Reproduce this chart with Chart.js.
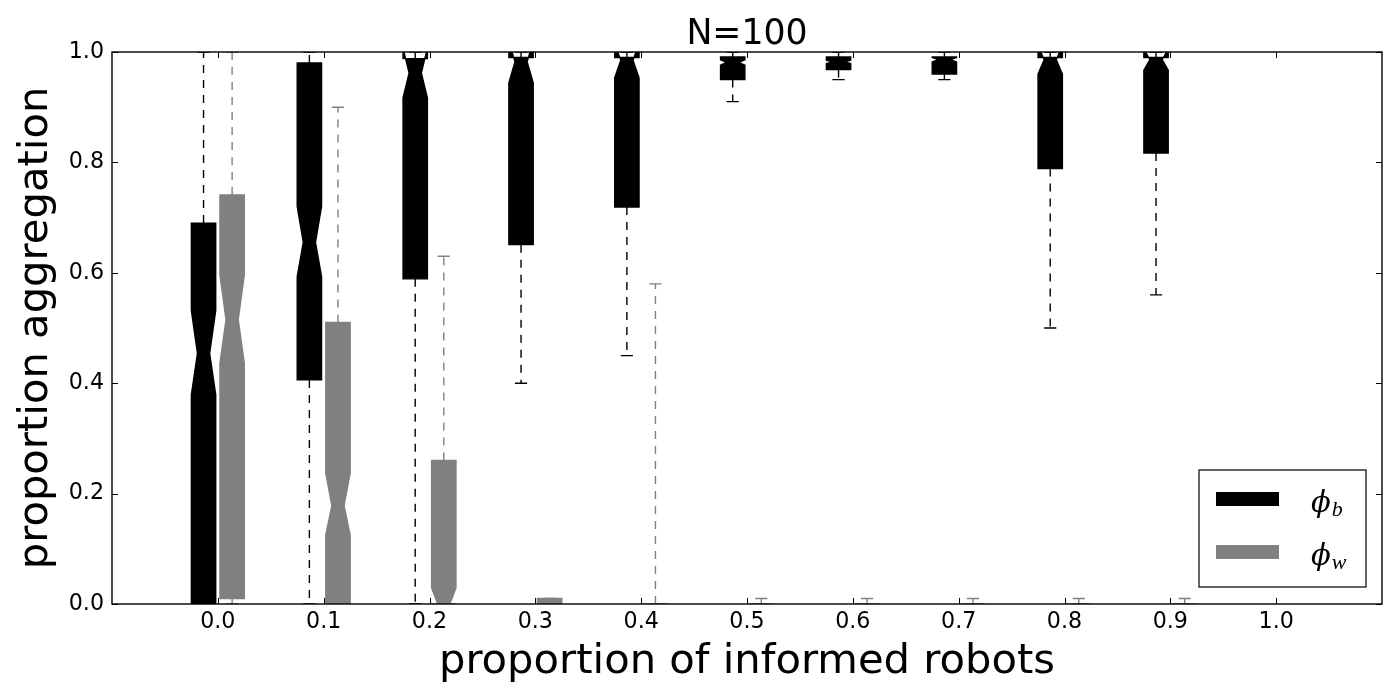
<!DOCTYPE html>
<html>
<head>
<meta charset="utf-8">
<script src="https://cdn.jsdelivr.net/npm/chart.js@4.4.1/dist/chart.umd.min.js"></script>
<style>
html,body{margin:0;padding:0;background:#ffffff;}
#wrap{width:1400px;height:700px;}
</style>
</head>
<body>
<div id="wrap"><canvas id="c" width="1400" height="700"></canvas></div>
<script>
// ---------- data ----------
const categories = [0.0, 0.1, 0.2, 0.3, 0.4, 0.5, 0.6, 0.7, 0.8, 0.9];
const xTickValues = [0.0, 0.1, 0.2, 0.3, 0.4, 0.5, 0.6, 0.7, 0.8, 0.9, 1.0];
const yTickValues = [0.0, 0.2, 0.4, 0.6, 0.8, 1.0];
const seriesLabels = ['b', 'w'];   // subscripts of phi

// phi_b (black)
const bLow     = [0.00, 0.00, 0.00, 0.40, 0.45, 0.91, 0.95, 0.95, 0.50, 0.56];
const bQ1      = [0.00, 0.406, 0.589, 0.651, 0.719, 0.950, 0.968, 0.960, 0.789, 0.817];
const bNotchLo = [0.379, 0.593, 0.917, 0.944, 0.953, 0.976, 0.979, 0.982, 0.960, 0.967];
const bMed     = [0.454, 0.655, 0.962, 0.982, 0.985, 0.981, 0.982, 0.986, 0.986, 0.986];
const bNotchHi = [0.532, 0.720, 1.007, 1.020, 1.015, 0.986, 0.985, 0.990, 1.012, 1.005];
const bQ3      = [0.690, 0.980, 0.988, 0.990, 0.990, 0.991, 0.991, 0.991, 0.990, 0.990];
const bHigh    = [1.00, 1.00, 1.00, 1.00, 1.00, 1.00, 1.00, 1.00, 1.00, 1.00];

// phi_w (grey)
const wLow     = [0.00, 0.00, 0.00, 0.00, 0.00, 0.00, 0.00, 0.00, 0.00, 0.00];
const wQ1      = [0.01, 0.00, 0.00, 0.00, 0.00, 0.00, 0.00, 0.00, 0.00, 0.00];
const wNotchLo = [0.436, 0.125, -0.029, -0.001, 0.00, 0.00, 0.00, 0.00, 0.00, 0.00];
const wMed     = [0.515, 0.178, 0.000, 0.000, 0.00, 0.00, 0.00, 0.00, 0.00, 0.00];
const wNotchHi = [0.596, 0.237, 0.029, 0.001, 0.00, 0.00, 0.00, 0.00, 0.00, 0.00];
const wQ3      = [0.741, 0.510, 0.260, 0.010, 0.00, 0.00, 0.00, 0.00, 0.00, 0.00];
const wHigh    = [1.00, 0.90, 0.63, 0.01, 0.58, 0.01, 0.01, 0.01, 0.01, 0.01];

// ---------- styling ----------
const BOX_W = 0.023, CAP_W = 0.0115;
const series = [
  {sub: seriesLabels[0], color: '#000000', offset: -0.0135,
   low: bLow, q1: bQ1, nlo: bNotchLo, med: bMed, nhi: bNotchHi, q3: bQ3, high: bHigh},
  {sub: seriesLabels[1], color: '#808080', offset: 0.0135,
   low: wLow, q1: wQ1, nlo: wNotchLo, med: wMed, nhi: wNotchHi, q3: wQ3, high: wHigh}
];

const boxPlugin = {
  id: 'notchedBoxes',
  afterDatasetsDraw(chart) {
    const {ctx, chartArea: a, scales: {x, y}} = chart;
    ctx.save();
    ctx.beginPath();
    ctx.rect(a.left, a.top, a.right - a.left, a.bottom - a.top);
    ctx.clip();
    series.forEach(s => {
      // boxes
      categories.forEach((c, i) => {
        const p = c + s.offset;
        const L = x.getPixelForValue(p - BOX_W / 2), R = x.getPixelForValue(p + BOX_W / 2);
        const nL = x.getPixelForValue(p - BOX_W / 4), nR = x.getPixelForValue(p + BOX_W / 4);
        const Y = v => y.getPixelForValue(v);
        ctx.beginPath();
        ctx.moveTo(L, Y(s.q1[i]));
        ctx.lineTo(R, Y(s.q1[i]));
        ctx.lineTo(R, Y(s.nlo[i]));
        ctx.lineTo(nR, Y(s.med[i]));
        ctx.lineTo(R, Y(s.nhi[i]));
        ctx.lineTo(R, Y(s.q3[i]));
        ctx.lineTo(L, Y(s.q3[i]));
        ctx.lineTo(L, Y(s.nhi[i]));
        ctx.lineTo(nL, Y(s.med[i]));
        ctx.lineTo(L, Y(s.nlo[i]));
        ctx.closePath();
        ctx.fillStyle = s.color;
        ctx.fill();
        ctx.lineWidth = 1.4;
        ctx.lineJoin = 'miter';
        ctx.strokeStyle = s.color;
        ctx.stroke();
      });
      // whiskers, caps, medians
      categories.forEach((c, i) => {
        const p = c + s.offset;
        const xc = x.getPixelForValue(p);
        const cL = x.getPixelForValue(p - CAP_W / 2), cR = x.getPixelForValue(p + CAP_W / 2);
        const nL = x.getPixelForValue(p - BOX_W / 4), nR = x.getPixelForValue(p + BOX_W / 4);
        const Y = v => y.getPixelForValue(v);
        ctx.strokeStyle = s.color;
        ctx.lineWidth = 1.4;
        ctx.lineCap = 'butt';
        ctx.setLineDash([8, 7]);
        ctx.beginPath();
        ctx.moveTo(xc, Y(s.q1[i])); ctx.lineTo(xc, Y(s.low[i]));
        ctx.stroke();
        ctx.beginPath();
        ctx.moveTo(xc, Y(s.q3[i])); ctx.lineTo(xc, Y(s.high[i]));
        ctx.stroke();
        ctx.setLineDash([]);
        ctx.beginPath();
        ctx.moveTo(cL, Y(s.low[i])); ctx.lineTo(cR, Y(s.low[i]));
        ctx.moveTo(cL, Y(s.high[i])); ctx.lineTo(cR, Y(s.high[i]));
        ctx.stroke();
        ctx.beginPath();
        ctx.moveTo(nL, Y(s.med[i])); ctx.lineTo(nR, Y(s.med[i]));
        ctx.stroke();
      });
    });
    ctx.restore();

    // spines and inward ticks
    ctx.save();
    ctx.strokeStyle = '#000';
    ctx.lineWidth = 1.4;
    ctx.strokeRect(a.left, a.top, a.right - a.left, a.bottom - a.top);
    ctx.lineWidth = 1;
    ctx.beginPath();
    xTickValues.forEach(v => {
      const px = Math.round(x.getPixelForValue(v)) + 0.5;
      ctx.moveTo(px, a.bottom); ctx.lineTo(px, a.bottom - 6);
      ctx.moveTo(px, a.top); ctx.lineTo(px, a.top + 6);
    });
    yTickValues.forEach(v => {
      const py = Math.round(y.getPixelForValue(v)) + 0.5;
      ctx.moveTo(a.left, py); ctx.lineTo(a.left + 6, py);
      ctx.moveTo(a.right, py); ctx.lineTo(a.right - 6, py);
    });
    ctx.stroke();
    ctx.restore();
  },
  afterDraw(chart) {
    // legend (lower right inside axes)
    const {ctx, chartArea: a} = chart;
    const w = 167, h = 117;
    const lx = a.right - 16 - w, ly = a.bottom - 17 - h;
    ctx.save();
    ctx.fillStyle = '#fff';
    ctx.fillRect(lx, ly, w, h);
    ctx.strokeStyle = '#000';
    ctx.lineWidth = 1.2;
    ctx.strokeRect(lx, ly, w, h);
    series.forEach((s, k) => {
      const top = ly + 22 + k * 53;
      ctx.fillStyle = s.color;
      ctx.fillRect(lx + 17, top, 63, 14);
      const base = ly + 42 + k * 53.3;
      ctx.fillStyle = '#000';
      ctx.textBaseline = 'alphabetic';
      ctx.textAlign = 'left';
      ctx.font = 'italic 29px "DejaVu Serif", "Liberation Serif", serif';
      const phi = '\u03D5';
      ctx.fillText(phi, lx + 112, base);
      const pw = ctx.measureText(phi).width;
      ctx.font = 'italic 22px "Liberation Serif", "DejaVu Serif", serif';
      ctx.fillText(s.sub, lx + 113 + pw, base + 4);
    });
    ctx.restore();
  }
};

const tickFont = {family: '"DejaVu Sans", sans-serif', size: 22.2, lineHeight: 1.2};
const labelFont = {family: '"DejaVu Sans", sans-serif', size: 41.7, lineHeight: 1};

new Chart(document.getElementById('c').getContext('2d'), {
  type: 'scatter',
  data: {
    datasets: series.map(s => ({
      label: '\u03D5' + s.sub,
      data: categories.map((c, i) => ({x: c + s.offset, y: s.med[i]})),
      pointRadius: 0,
      showLine: false,
      backgroundColor: s.color,
      borderColor: s.color
    }))
  },
  options: {
    responsive: false,
    animation: false,
    events: [],
    layout: {padding: {left: 0, right: 18, top: 0, bottom: 0}},
    plugins: {
      legend: {display: false},
      tooltip: {enabled: false},
      title: {
        display: true, text: 'N=100', fullSize: false, color: '#000',
        font: {family: '"DejaVu Sans", sans-serif', size: 34.7, lineHeight: 0.991, weight: 'normal'},
        padding: {top: 17.6, bottom: 0}
      }
    },
    scales: {
      x: {
        type: 'linear', min: -0.1, max: 1.1,
        afterBuildTicks: s => { s.ticks = xTickValues.map(v => ({value: v})); },
        afterFit: s => { s.height = 96; },
        ticks: {callback: v => Number(v).toFixed(1), font: tickFont, color: '#000', padding: 5,
                maxRotation: 0, minRotation: 0, autoSkip: false},
        grid: {display: false, drawTicks: false},
        border: {display: false},
        title: {display: true, text: 'proportion of informed robots', color: '#000',
                font: labelFont, padding: {top: 0, bottom: 17}}
      },
      y: {
        type: 'linear', min: 0, max: 1,
        afterBuildTicks: s => { s.ticks = yTickValues.map(v => ({value: v})); },
        afterFit: s => { s.width = 112; },
        ticks: {callback: v => Number(v).toFixed(1), font: tickFont, color: '#000', padding: 8},
        grid: {display: false, drawTicks: false},
        border: {display: false},
        title: {display: true, text: 'proportion aggregation', color: '#000',
                font: labelFont, padding: {top: 15, bottom: 0}}
      }
    }
  },
  plugins: [boxPlugin]
});
</script>
</body>
</html>
